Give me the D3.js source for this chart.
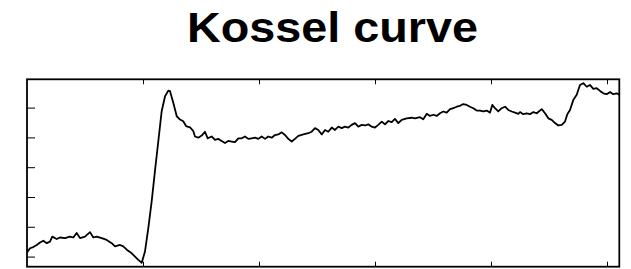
<!DOCTYPE html>
<html>
<head>
<meta charset="utf-8">
<script src="https://cdn.jsdelivr.net/npm/d3@7"></script>
<style>
  body { margin: 0; background: #fff; }
  svg { display: block; }
</style>
</head>
<body>
<div id="chart"></div>
<script>
width = 631
height = 269
margin = ({ top: 79.3, right: 11.7, bottom: 2.3, left: 27 })

// curve: position and intensity
position = [0, 2.6, 5.4, 8.4, 11.2, 14.1, 17, 19.8, 21.8, 25.6, 28.4, 32.8, 37.1, 39.9, 42.8, 45.7, 50, 54.3, 57.2, 60.1,
    64.4, 68.7, 73, 75.9, 80.2, 83, 86, 90.3, 93.1, 96, 98.9, 101.7, 104.6, 107.5, 110.3, 113.2, 116.1, 119, 121.8, 123.3,
    126.1, 129.1, 131.9, 134.7, 137.1, 140.5, 143.4, 144.8, 147.7, 150.6, 153.4, 155.8, 159.2, 162.1, 164.9, 167.8, 170.7, 173.5, 176.4, 179.3,
    182.2, 185.1, 187.9, 190.8, 193.7, 196.6, 199.4, 202.3, 205.2, 208, 210.9, 213.8, 216.6, 219.6, 222.4, 225.3, 228.2, 231, 233.9, 238.2,
    242.5, 245.4, 248.3, 251.1, 254.1, 256.9, 259.7, 262.7, 265.5, 268.4, 271.3, 274.1, 277, 279.9, 282.8, 285.6, 288.5, 291.4, 294.2, 297.2,
    300, 302.8, 305.8, 308.6, 311.5, 314.4, 317.2, 320.1, 323, 327.3, 331.6, 334.5, 338.8, 341.6, 344.6, 347.4, 350.3, 353.2, 356, 358.9,
    361.8, 364.7, 367.5, 370.4, 373.3, 376.1, 379.1, 381.9, 384.7, 387.7, 390.5, 393.4, 396.3, 399.1, 401.1, 403.4, 406.3, 409.2, 412.1, 414.9,
    417.8, 420.7, 423.5, 425, 427.8, 430.8, 433.6, 436.5, 439.4, 443.7, 446.6, 449.4, 452.3, 455.2, 458, 461, 463.8, 465.8, 468.1, 471,
    473.9, 476.7, 479.6, 482.5, 485.3, 488.2, 491.1, 494, 496.8, 499.7, 502.6, 505.4, 508.4, 510.6]
intensity = [1.4, 2.8, 3.2, 3.9, 4.7, 5.3, 4.5, 5.0, 6.7, 5.9, 6.4, 6.2, 6.7, 6.4, 7.9, 6.2, 6.7, 8.2, 6.4, 6.7,
    6.2, 5.6, 4.5, 3.4, 3.9, 3.4, 2.3, 1.1, 0, -1.1, -2.1, 1.7, 9.6, 18.6, 28.7, 38.7, 48.8, 53.8, 55.7, 55.5,
    51.6, 47.1, 46.0, 45.4, 43.8, 43.4, 42.1, 40.3, 39.9, 40.6, 41.9, 39.7, 40.3, 39.2, 39.5, 38.8, 38.1, 38.8, 38.6, 38.4,
    39.7, 39.7, 40.3, 39.5, 39.7, 39.9, 39.5, 40.3, 39.5, 40.3, 39.9, 40.8, 41.0, 41.7, 40.8, 39.5, 38.6, 39.5, 40.5, 41.0,
    41.4, 41.9, 43.1, 42.5, 41.0, 42.5, 41.9, 43.3, 42.5, 43.6, 43.1, 43.6, 43.3, 44.2, 44.8, 43.6, 44.2, 44.0, 44.4, 43.6,
    43.3, 44.2, 45.3, 44.4, 45.5, 45.1, 46.2, 44.8, 45.9, 46.4, 46.6, 46.4, 46.8, 46.1, 47.9, 47.2, 47.6, 47.2, 48.1, 48.7,
    48.3, 49.5, 49.8, 50.3, 50.6, 51.2, 50.9, 50.3, 49.8, 49.0, 49.0, 48.7, 49.0, 48.3, 50.9, 49.8, 48.7, 49.8, 50.3, 49.2,
    48.7, 48.3, 47.9, 48.5, 47.8, 48.1, 47.8, 48.5, 48.1, 49.5, 48.1, 46.4, 45.9, 44.8, 44.0, 44.2, 45.3, 47.8, 49.2, 52.6,
    54.3, 57.6, 58.2, 57.0, 57.6, 56.3, 56.5, 55.6, 54.8, 54.5, 55.2, 54.5, 54.8, 54.3]

xTicks = [100, 200, 300, 400, 500]
yTicks = [0, 10, 20, 30, 40, 50]

data = position.map((p, i) => [p, intensity[i]])

x = d3.scaleLinear([0, 510.6], [margin.left, width - margin.right])
y = d3.scaleLinear([-3.4, 59.5], [height - margin.bottom, margin.top])

const svg = d3.select("#chart").append("svg")
    .attr("width", width)
    .attr("height", height)
    .attr("viewBox", [0, 0, width, height])

// title, stretched a bit wider like the picture
svg.append("text")
    .attr("x", 332.5)
    .attr("y", 42)
    .attr("text-anchor", "middle")
    .attr("font-family", "'Liberation Sans', Arial, sans-serif")
    .attr("font-weight", "bold")
    .attr("font-size", 42)
    .attr("textLength", 291)
    .attr("lengthAdjust", "spacingAndGlyphs")
    .text("Kossel curve")

// ticks point inward, no labels
const tickStyle = g => g
    .call(g => g.select(".domain").remove())
    .call(g => g.selectAll(".tick line").attr("stroke", "#000").attr("stroke-width", 1))

svg.append("g")
    .attr("transform", `translate(${margin.left},0)`)
    .call(d3.axisLeft(y).tickValues(yTicks).tickSize(-8).tickFormat(""))
    .call(tickStyle)

svg.append("g")
    .attr("transform", `translate(0,${margin.top})`)
    .call(d3.axisTop(x).tickValues(xTicks).tickSize(-5).tickFormat(""))
    .call(tickStyle)

svg.append("g")
    .attr("transform", `translate(0,${height - margin.bottom})`)
    .call(d3.axisBottom(x).tickValues(xTicks).tickSize(-5).tickFormat(""))
    .call(tickStyle)

const line = d3.line()
    .x(d => x(d[0]))
    .y(d => y(d[1]))

svg.append("path")
    .datum(data)
    .attr("fill", "none")
    .attr("stroke", "#000")
    .attr("stroke-width", 1.8)
    .attr("stroke-linejoin", "round")
    .attr("d", line)

// frame
svg.append("rect")
    .attr("x", margin.left)
    .attr("y", margin.top)
    .attr("width", width - margin.left - margin.right)
    .attr("height", height - margin.top - margin.bottom)
    .attr("fill", "none")
    .attr("stroke", "#000")
    .attr("stroke-width", 1.8)
</script>
</body>
</html>
